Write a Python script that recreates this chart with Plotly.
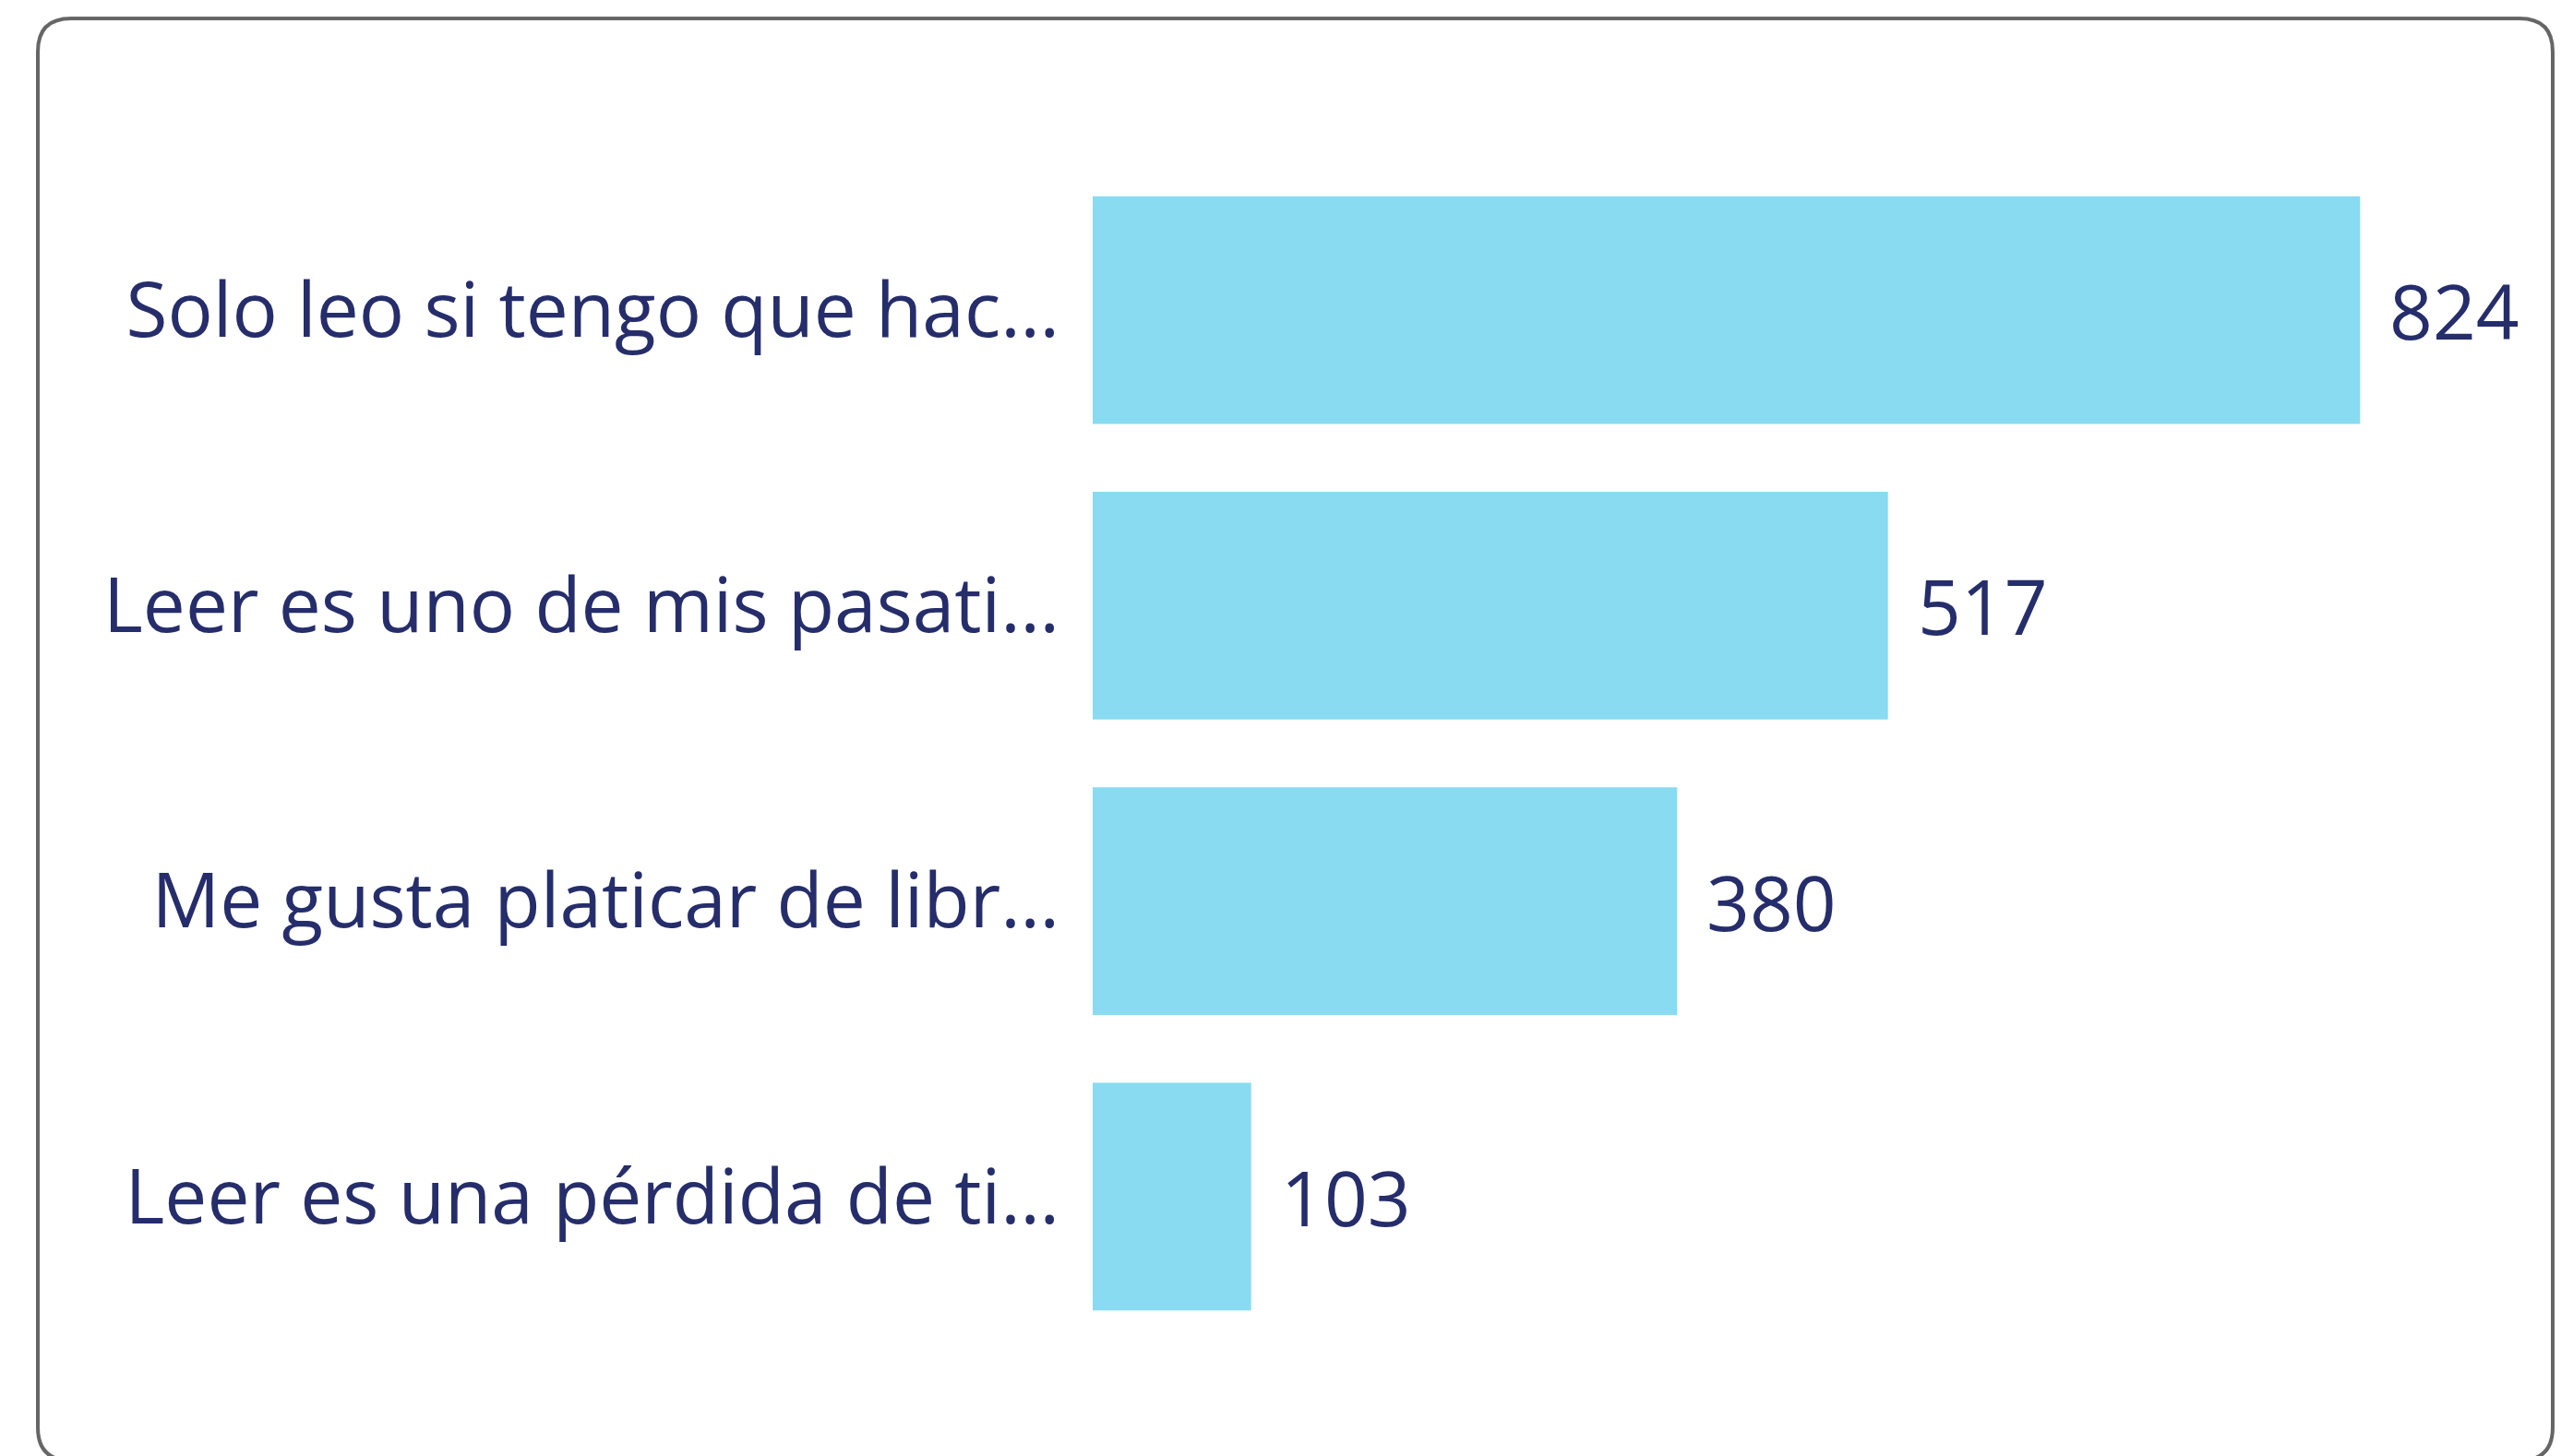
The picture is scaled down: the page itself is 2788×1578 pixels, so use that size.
import plotly.graph_objects as go

# Survey answers (truncated as shown on the axis) and their counts
categories = [
    "Solo leo si tengo que hac…",
    "Leer es uno de mis pasati…",
    "Me gusta platicar de libr…",
    "Leer es una pérdida de ti…",
]
counts = [824, 517, 380, 103]

W, H = 2788, 1578
M_L, M_R, M_T, M_B = 1184, 104, 176, 121
TEXT = "#252D6B"
BAR = "#88DBF1"
FONT = "Open Sans"
FS = 82

fig = go.Figure(
    go.Bar(
        x=counts,
        y=categories,
        orientation="h",
        marker=dict(color=BAR, line=dict(width=0)),
        hoverinfo="skip",
    )
)

# Value labels to the right of each bar
for cat, val in zip(categories, counts):
    fig.add_annotation(
        x=val, y=cat, text=str(val), showarrow=False,
        xanchor="left", yanchor="middle", xshift=30,
        font=dict(family=FONT, size=FS, color=TEXT),
    )

# Rounded card border, built in pixel space then converted to paper units
pw = W - M_L - M_R
ph = H - M_T - M_B


def px(x):
    return (x - M_L) / pw


def py(y):
    return 1 - (y - M_T) / ph


x0, y0, x1, y1, r = 41, 20, 2766, 1583, 36
path = (
    f"M {px(x0 + r)},{py(y0)} L {px(x1 - r)},{py(y0)} "
    f"Q {px(x1)},{py(y0)} {px(x1)},{py(y0 + r)} "
    f"L {px(x1)},{py(y1 - r)} Q {px(x1)},{py(y1)} {px(x1 - r)},{py(y1)} "
    f"L {px(x0 + r)},{py(y1)} Q {px(x0)},{py(y1)} {px(x0)},{py(y1 - r)} "
    f"L {px(x0)},{py(y0 + r)} Q {px(x0)},{py(y0)} {px(x0 + r)},{py(y0)} Z"
)
fig.add_shape(type="path", xref="paper", yref="paper", path=path,
              line=dict(color="#666666", width=4), layer="above")

fig.update_layout(
    width=W, height=H,
    margin=dict(l=M_L, r=M_R, t=M_T, b=M_B),
    paper_bgcolor="white", plot_bgcolor="white",
    bargap=0.23, showlegend=False,
    font=dict(family=FONT, color=TEXT),
    xaxis=dict(range=[0, 900], visible=False, fixedrange=True),
    yaxis=dict(
        autorange="reversed", showgrid=False, zeroline=False, showline=False,
        ticks="", ticklabelstandoff=35,
        tickfont=dict(family=FONT, size=FS, color=TEXT),
        fixedrange=True,
    ),
)

fig.write_html("out.html", config={"displayModeBar": False})
